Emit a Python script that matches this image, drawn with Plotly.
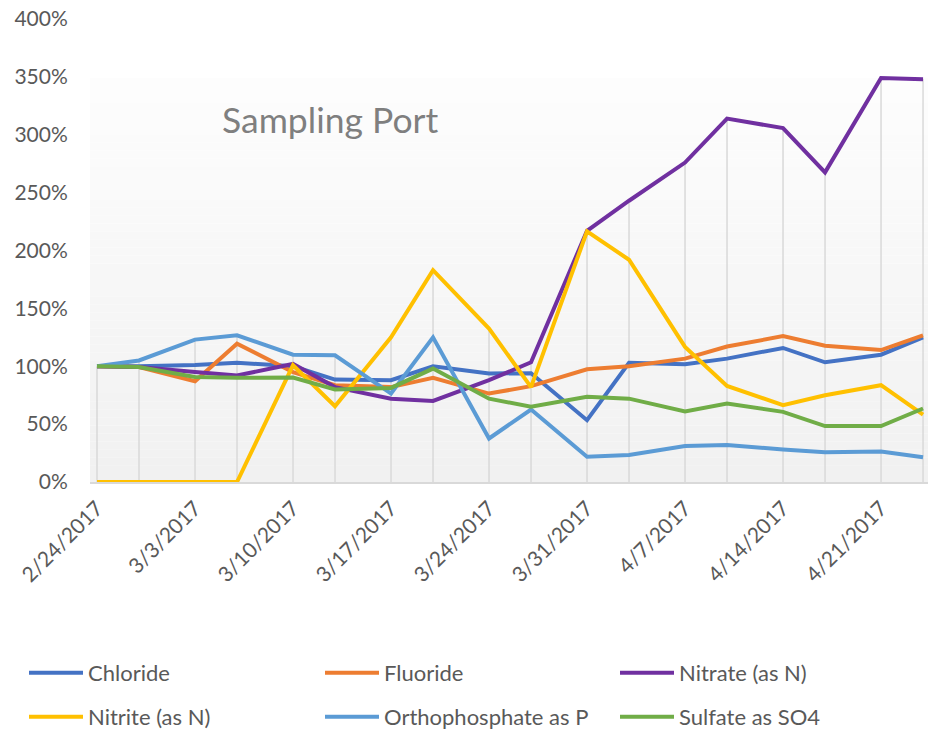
import plotly.graph_objects as go

dates = ["2017-02-24", "2017-02-27", "2017-03-03", "2017-03-06", "2017-03-10", "2017-03-13",
         "2017-03-17", "2017-03-20", "2017-03-24", "2017-03-27", "2017-03-31", "2017-04-03",
         "2017-04-07", "2017-04-10", "2017-04-14", "2017-04-17", "2017-04-21", "2017-04-24"]

chloride = [100, 100, 101, 103, 100, 88.5, 88, 100, 93.7, 94, 53.4, 103, 101.7, 106.6, 115.8, 103.4, 110, 125]
fluoride = [100, 99.4, 87, 119.5, 95, 83.6, 82, 90, 76.4, 82.8, 97.4, 100, 106.6, 117, 126, 117.8, 114, 126.7]
nitrate = [100, 99.4, 95, 92, 102, 82, 72, 70, 88, 103.4, 217, 243, 276, 314, 305.7, 267.5, 349, 348]
nitrite = [0, 0, 0, 0, 100.9, 65.5, 125, 183, 132.5, 82, 216.6, 192, 116.7, 83, 66.4, 75, 83.6, 58.3]
orthophosphate = [100, 105, 123, 126.7, 110, 109.5, 76.4, 125, 37.6, 62.6, 21.8, 23.3, 31, 32, 28, 25.6, 26.4, 21.3]
sulfate = [100, 99.4, 90.8, 90, 90.2, 80, 81.3, 98, 72, 65, 73.6, 72, 61, 67.8, 60.6, 48.3, 48.3, 63.5]

series_names = ["Chloride", "Fluoride", "Nitrate (as N)", "Nitrite (as N)", "Orthophosphate as P", "Sulfate as SO4"]
series_values = [chloride, fluoride, nitrate, nitrite, orthophosphate, sulfate]
series_colors = ["#4472C4", "#ED7D31", "#7030A0", "#FFC000", "#5B9BD5", "#70AD47"]

tick_dates = ["2017-02-24", "2017-03-03", "2017-03-10", "2017-03-17", "2017-03-24",
              "2017-03-31", "2017-04-07", "2017-04-14", "2017-04-21"]
tick_labels = ["2/24/2017", "3/3/2017", "3/10/2017", "3/17/2017", "3/24/2017",
               "3/31/2017", "4/7/2017", "4/14/2017", "4/21/2017"]
y_ticks = [0, 50, 100, 150, 200, 250, 300, 350, 400]
y_tick_labels = ["0%", "50%", "100%", "150%", "200%", "250%", "300%", "350%", "400%"]

FONT = "Lato"
W, H = 928, 730
ML, MR, MT, MB = 90, 0, 19, 248
PW, PH = W - ML - MR, H - MT - MB

fig = go.Figure()

# drop lines (from axis up to highest series value on each date)
dx, dy = [], []
for i, d in enumerate(dates):
    top = max(s[i] for s in series_values)
    dx += [d, d, None]
    dy += [0, top, None]
fig.add_trace(go.Scatter(x=dx, y=dy, mode="lines", line=dict(color="#d9d9d9", width=1.5),
                         showlegend=False, hoverinfo="skip"))

legend_ids = ["legend", "legend2", "legend3", "legend4", "legend5", "legend6"]
for k, (name, vals, col) in enumerate(zip(series_names, series_values, series_colors)):
    fig.add_trace(go.Scatter(x=dates, y=vals, name=name, mode="lines",
                             line=dict(color=col, width=4), legend=legend_ids[k]))

# gradient plot background (white at top, light grey at bottom)
shapes = []
n = 50
g_top = (482 - 78) / 463
for i in range(n):
    t = i / (n - 1)
    v = round(241 + 12 * t)
    shapes.append(dict(type="rect", xref="x domain", yref="y domain",
                       x0=0, x1=1, y0=g_top * i / n, y1=g_top * (i + 1) / n,
                       fillcolor=f"rgb({v},{v},{v})", line=dict(width=0), layer="below"))

legend_common = dict(orientation="h", xanchor="left", yanchor="middle", itemwidth=54,
                     font=dict(family=FONT, size=22, color="#595959"),
                     bgcolor="rgba(0,0,0,0)", borderwidth=0)
# legend positions in pixels (left of swatch, vertical centre)
col_px = [30, 326, 621]
row_px = [673, 717]
legends = {}
for k, lid in enumerate(legend_ids):
    px = col_px[k % 3] - 6
    py = row_px[k // 3]
    legends[lid] = dict(x=(px - ML) / PW, y=(H - MB - py) / PH, **legend_common)

fig.update_layout(
    width=W, height=H,
    margin=dict(l=ML, r=MR, t=MT, b=MB, autoexpand=False),
    paper_bgcolor="white", plot_bgcolor="white",
    shapes=shapes,
    font=dict(family=FONT, color="#595959"),
    xaxis=dict(type="date", range=["2017-02-23 12:00", "2017-04-24 08:30"],
               tickvals=tick_dates, ticktext=tick_labels, tickangle=-45,
               tickfont=dict(family=FONT, size=21, color="#595959"),
               showgrid=False, zeroline=False, showline=True, linecolor="#d9d9d9", linewidth=1.5,
               ticks="outside", ticklen=4, tickcolor="rgba(0,0,0,0)", automargin=False,
               ticklabeloverflow="allow"),
    yaxis=dict(range=[0, 400], tickvals=y_ticks, ticktext=y_tick_labels,
               tickfont=dict(family=FONT, size=21, color="#595959"),
               showgrid=False, zeroline=False, showline=False,
               ticks="outside", ticklen=17, tickcolor="rgba(0,0,0,0)", automargin=False,
               ticklabeloverflow="allow"),
    annotations=[dict(text="Sampling Port", x=(329.5 - ML) / PW, y=(H - MB - 119) / PH,
                      xref="paper", yref="paper", xanchor="center", yanchor="middle",
                      showarrow=False, font=dict(family=FONT, size=35.5, color="#7f7f7f"))],
    **legends,
)

fig.write_html("out.html", config={"displayModeBar": False},
               post_script="document.body.style.margin='0';")
